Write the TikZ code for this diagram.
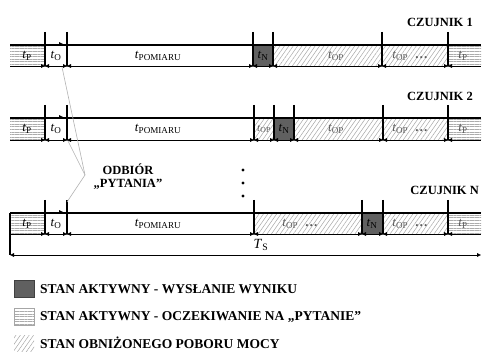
\documentclass[tikz,border=0pt]{standalone}
\usepackage{fontspec}
\setmainfont{Liberation Serif}
\usetikzlibrary{arrows.meta,patterns.meta}
\newcommand{\tsub}[1]{\textit{t}\textsubscript{\upshape #1}}

\begin{document}
\begin{tikzpicture}[
  x=1pt, y=-1pt,
  stripes/.style={pattern={Lines[angle=0,distance=2.6pt,line width=0.5pt]}, pattern color=gray!65},
  hatch/.style={pattern={Lines[angle=55,distance=3.6pt,line width=0.5pt]}, pattern color=gray!70},
  sendfill/.style={fill=gray!75!black},
  topline/.style={line width=1.6pt},
  botline/.style={line width=0.9pt, gray!80!black},
  tickline/.style={line width=1.3pt},
  dim/.style={{Triangle[length=4pt,width=3.6pt]}-{Triangle[length=4pt,width=3.6pt]}, line width=0.4pt},
  dimr/.style={-{Triangle[length=4pt,width=3.6pt]}, line width=0.4pt},
  diml/.style={{Triangle[length=4pt,width=3.6pt]}-, line width=0.4pt},
  tlbl/.style={font=\fontsize{13}{13}\selectfont, inner sep=0pt},
  tlblg/.style={tlbl, text=gray!70!black},
  czlbl/.style={font=\fontsize{12.5}{12.5}\selectfont\bfseries, anchor=east, inner sep=0pt},
  leglbl/.style={font=\fontsize{13.5}{13.5}\selectfont\bfseries, anchor=west, inner sep=0pt},
  callout/.style={gray!60, line width=0.6pt}
]
\useasboundingbox (0,0) rectangle (482,358);

% --- CZUJNIK 1 ---
\fill[stripes] (10,45) rectangle (45,66);
\fill[sendfill] (253,45) rectangle (273,66);
\fill[hatch] (273,45) rectangle (448,66);
\fill[stripes] (448,45) rectangle (481,66);
\draw[topline] (10,45) -- (481,45);
\draw[botline] (10,66) -- (481,66);
\foreach \x in {45,67,253,273,382,448}
  \draw[tickline] (\x,32) -- (\x,66);
\draw[dimr] (10,66) -- (45,66);
\foreach \a/\b in {45/67,67/253,253/273,273/382,382/448}
  \draw[dim] (\a,66) -- (\b,66);
\draw[diml] (448,66) -- (481,66);
\draw[dimr] (53,44) -- (63,44);
\node[tlbl] (p1a) at (27,56) {\tsub{P}};
\node[tlbl] (o1) at (56,56) {\tsub{O}};
\node[tlbl] (pom1) at (158,56) {\tsub{POMIARU}};
\node[tlbl] (n1) at (263,56) {\tsub{N}};
\node[tlblg] (op1a) at (336,56) {\tsub{OP}};
\node[tlblg] (op1b) at (410,56) {\tsub{OP}\enspace\textbf{\dots}};
\node[tlblg] (p1b) at (463,56) {\tsub{P}};
\node[czlbl] (cz1) at (473,22) {CZUJNIK 1};

% --- CZUJNIK 2 ---
\fill[stripes] (10,118) rectangle (45,140);
\fill[hatch] (254,118) rectangle (274,140);
\fill[sendfill] (274,118) rectangle (294,140);
\fill[hatch] (294,118) rectangle (448,140);
\fill[stripes] (448,118) rectangle (481,140);
\draw[topline] (10,118) -- (481,118);
\draw[botline] (10,140) -- (481,140);
\foreach \x in {45,67,254,274,294,383,448}
  \draw[tickline] (\x,105) -- (\x,140);
\draw[dimr] (10,140) -- (45,140);
\foreach \a/\b in {45/67,67/254,254/274,274/294,294/383,383/448}
  \draw[dim] (\a,140) -- (\b,140);
\draw[diml] (448,140) -- (481,140);
\draw[dimr] (53,117) -- (63,117);
\node[tlbl] (p2a) at (27,129) {\tsub{P}};
\node[tlbl] (o2) at (56,129) {\tsub{O}};
\node[tlbl] (pom2) at (158,129) {\tsub{POMIARU}};
\node[tlblg, font=\fontsize{11}{11}\selectfont] (op2a) at (264,129) {\tsub{OP}};
\node[tlbl] (n2) at (284,129) {\tsub{N}};
\node[tlblg] (op2b) at (336,129) {\tsub{OP}};
\node[tlblg] (op2c) at (410,129) {\tsub{OP}\enspace\textbf{\dots}};
\node[tlblg] (p2b) at (463,129) {\tsub{P}};
\node[czlbl] (cz2) at (473,96) {CZUJNIK 2};

% --- kropki ---
\foreach \y in {170,183,196}
  \fill (243,\y) circle (1.6pt);

% --- CZUJNIK N ---
\fill[stripes] (10,213) rectangle (45,234);
\fill[hatch] (254,213) rectangle (362,234);
\fill[sendfill] (362,213) rectangle (383,234);
\fill[hatch] (383,213) rectangle (448,234);
\fill[stripes] (448,213) rectangle (481,234);
\draw[topline] (10,213) -- (481,213);
\draw[botline] (10,234) -- (481,234);
\draw[tickline] (10,213) -- (10,255);
\foreach \x in {45,67,254,362,383,448}
  \draw[tickline] (\x,200) -- (\x,234);
\draw[dimr] (10,234) -- (45,234);
\foreach \a/\b in {45/67,67/254,254/362,362/383,383/448}
  \draw[dim] (\a,234) -- (\b,234);
\draw[diml] (448,234) -- (481,234);
\draw[dimr] (53,212) -- (63,212);
\node[tlbl] (p3a) at (27,224) {\tsub{P}};
\node[tlbl] (o3) at (56,224) {\tsub{O}};
\node[tlbl] (pom3) at (158,224) {\tsub{POMIARU}};
\node[tlblg] (op3a) at (300,224) {\tsub{OP}\enspace\textbf{\dots}};
\node[tlbl] (n3) at (372,224) {\tsub{N}};
\node[tlblg] (op3b) at (410,224) {\tsub{OP}\enspace\textbf{\dots}};
\node[tlblg] (p3b) at (463,224) {\tsub{P}};
\node[czlbl] (czn) at (479,190) {CZUJNIK N};

% --- T_S ---
\draw[dim] (10,255) -- (481,255);
\node[tlbl, font=\fontsize{14}{14}\selectfont] (ts) at (261,245) {\textit{T}\textsubscript{S}};

% --- odbior pytania ---
\coordinate (odb) at (85,175);
\draw[callout] (62,67) -- (odb) -- (67,202);
\draw[callout] (68,141) -- (odb);
\node[font=\fontsize{12.5}{13}\selectfont\bfseries, align=center, inner sep=0pt] (odblbl) at (128,177) {ODBIÓR\\„PYTANIA”};

% --- legenda ---
\draw[sendfill, draw=gray!50!black, line width=0.6pt] (14,280) rectangle (34,297);
\draw[stripes, draw=gray!70, line width=0.6pt] (14,308) rectangle (34,325);
\fill[hatch] (14,335) rectangle (34,351);
\node[leglbl] (leg1) at (40,289) {STAN AKTYWNY - WYSŁANIE WYNIKU};
\node[leglbl] (leg2) at (40,317) {STAN AKTYWNY - OCZEKIWANIE NA „PYTANIE”};
\node[leglbl] (leg3) at (40,343) {STAN OBNIŻONEGO POBORU MOCY};
\end{tikzpicture}
\end{document}
